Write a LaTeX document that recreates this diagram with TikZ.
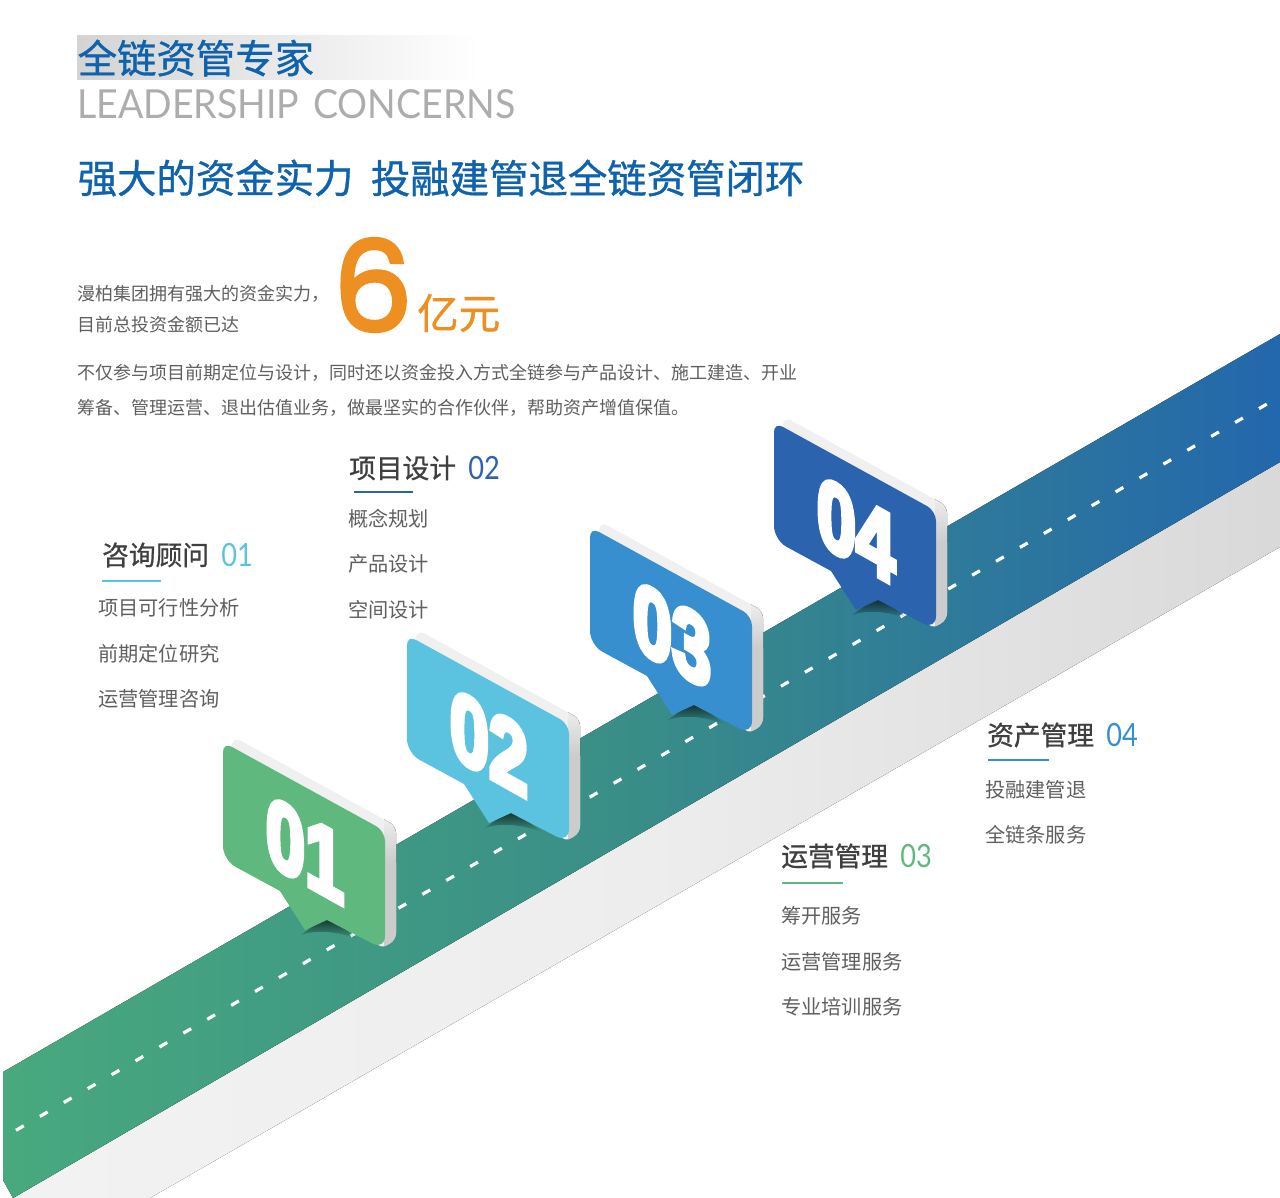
\documentclass[tikz,border=0pt]{standalone}
\usepackage{fontspec}
\setmainfont{Noto Sans CJK SC}
\newfontfamily\cjkmed[FakeBold=0.9]{Noto Sans CJK SC}
\newfontfamily\latinfont[FakeStretch=0.938]{Lato}
\newfontfamily\numfont[FakeStretch=0.85]{Lato}
\newfontfamily\sixfont[FakeBold=3]{Poppins}
\newfontfamily\pinfont{Liberation Sans}
\usetikzlibrary{positioning,fadings}

\definecolor{titleblue}{HTML}{0F62AC}
\definecolor{bodygray}{HTML}{5F5F5F}
\definecolor{headgray}{HTML}{3F3F3F}
\definecolor{sixorange}{HTML}{EE9021}
\definecolor{pingreen}{HTML}{5FB97F}
\definecolor{pinsky}{HTML}{5BC2DF}
\definecolor{pinblue}{HTML}{378FD0}
\definecolor{pinnavy}{HTML}{2B63AE}
\definecolor{roadleft}{HTML}{48A97E}
\definecolor{roadmid}{HTML}{398D88}
\definecolor{roadright}{HTML}{2367AC}

\begin{document}
\begin{tikzpicture}[x=1pt,y=-1pt]

    \tikzstyle{title}=[inner sep=0pt,anchor=west,text=titleblue,font=\cjkmed\fontsize{39.4}{39}\selectfont]
    \tikzstyle{body}=[inner sep=0pt,anchor=west,text=bodygray,font=\fontsize{18}{18}\selectfont]
    \tikzstyle{head}=[inner sep=0pt,anchor=west,text=headgray,font=\cjkmed\fontsize{26.7}{27}\selectfont]
    \tikzstyle{num}=[inner sep=0pt,anchor=west,font=\numfont\fontsize{32}{32}\selectfont]
    \tikzstyle{item}=[inner sep=0pt,anchor=west,text=bodygray,font=\fontsize{20.2}{20}\selectfont]
    \tikzstyle{bar}=[line width=2.6pt]

    \useasboundingbox (0,0) rectangle (1280,1198);

    % title band
    \fill[left color=black!17,right color=white] (77,36) rectangle (480,80);

    % road
    \coordinate (dashstart) at (16,1130.3);
    \coordinate (dashend) at (1267,404);
    \fill[left color=black!5,right color=black!15,middle color=black!7]
        (13,1198) -- (1280,462) -- (1280,547) -- (150,1198) -- cycle;
    \fill[left color=roadleft,right color=roadright,middle color=roadmid]
        (3,1072) -- (1280,334) -- (1280,462) -- (13,1198) -- (3,1180) -- cycle;
    \draw[white,line width=3.2pt,dash pattern=on 9pt off 18.64pt] (dashstart) -- (dashend);

    % pins
    \foreach \px/\py/\pincol/\pinnum in {223/748/pingreen/01,407/641/pinsky/02,590/533/pinblue/03,774/428/pinnavy/04}{
      \begin{scope}[shift={(\px,\py)}]
        \fill[black,path fading=south,fill opacity=0.75]
            (78,187) -- (104,168) -- (135,191) .. controls (115,184) and (95,181) .. (78,187) -- cycle;
        \begin{scope}
          \clip[rounded corners=7pt] (0,30) -- (11,-11) -- (173,78) -- (173,192) -- (157,201) -- (100,100) -- cycle;
          \fill[black!6] (-5,-20) rectangle (180,215);
          \fill[top color=black!7,bottom color=black!20] (161,70) rectangle (180,115);
          \fill[black!20] (161,115) rectangle (180,215);
        \end{scope}
        \fill[\pincol] (0,50) [rounded corners=10pt] -- (0,-6) -- (162,83) [rounded corners=14pt] -- (162,202) [sharp corners] -- (104,172) -- (82,182) -- (57,143) [rounded corners=14pt] -- (0,112) -- cycle;
        \node[white,inner sep=0pt,yslant=-0.56,xscale=0.88,yscale=1.22,transform shape,font=\pinfont\bfseries\addfontfeature{FakeBold=6}\fontsize{80}{80}\selectfont]
            (pin\pinnum) at (82,102) {\pinnum};
      \end{scope}
    }

    % top texts
    \node[title]                      (t1) at (77.5,58)  {全链资管专家};
    \node[inner sep=0pt,anchor=west,text=black!32,font=\latinfont\fontsize{40}{40}\selectfont]
                                      (t2) at (77,104) {LEADERSHIP\hspace{4pt} CONCERNS};
    \node[title]                      (t3) at (77.5,178) {强大的资金实力};
    \node[title,right=17pt of t3]     (t4)             {投融建管退全链资管闭环};

    \node[body]                       (b1) at (77.5,294) {漫柏集团拥有强大的资金实力，};
    \node[body]                       (b2) at (77.5,325) {目前总投资金额已达};
    \node[inner sep=0pt,anchor=base west,text=sixorange,font=\sixfont\fontsize{125}{125}\selectfont]
                                      (six) at (333,331) {6};
    \node[inner sep=0pt,anchor=west,text=sixorange,font=\cjkmed\fontsize{41.5}{42}\selectfont]
                                      (unit) at (417,313) {亿元};
    \node[body]                       (b3) at (77.5,373) {不仅参与项目前期定位与设计，同时还以资金投入方式全链参与产品设计、施工建造、开业};
    \node[body]                       (b4) at (77.5,408) {筹备、管理运营、退出估值业务，做最坚实的合作伙伴，帮助资产增值保值。};

    % 01
    \node[head]                       (h1) at (102,555) {咨询顾问};
    \node[num,text=pinsky,right=12pt of h1] (n1) {01};
    \coordinate (u1a) at (102,581);
    \coordinate (u1b) at (161,581);
    \draw[bar,pinsky] (u1a) -- (u1b);
    \node[item] (i11) at (98,608) {项目可行性分析};
    \node[item] (i12) at (98,654) {前期定位研究};
    \node[item] (i13) at (98,699) {运营管理咨询};

    % 02
    \node[head]                       (h2) at (349,468) {项目设计};
    \node[num,text=pinnavy,right=12pt of h2] (n2) {02};
    \coordinate (u2a) at (354,492);
    \coordinate (u2b) at (413,492);
    \draw[bar,pinnavy] (u2a) -- (u2b);
    \node[item] (i21) at (348,519) {概念规划};
    \node[item] (i22) at (348,564) {产品设计};
    \node[item] (i23) at (348,610) {空间设计};

    % 03
    \node[head]                       (h3) at (781,856) {运营管理};
    \node[num,text=pingreen,right=12pt of h3] (n3) {03};
    \coordinate (u3a) at (782,883);
    \coordinate (u3b) at (843,883);
    \draw[bar,pingreen] (u3a) -- (u3b);
    \node[item] (i31) at (781,916) {筹开服务};
    \node[item] (i32) at (781,962) {运营管理服务};
    \node[item] (i33) at (781,1007) {专业培训服务};

    % 04
    \node[head]                       (h4) at (987,735) {资产管理};
    \node[num,text=pinblue,right=12pt of h4] (n4) {04};
    \coordinate (u4a) at (988,760);
    \coordinate (u4b) at (1049,760);
    \draw[bar,pinblue] (u4a) -- (u4b);
    \node[item] (i41) at (985,790) {投融建管退};
    \node[item] (i42) at (985,835) {全链条服务};

\end{tikzpicture}
\end{document}
